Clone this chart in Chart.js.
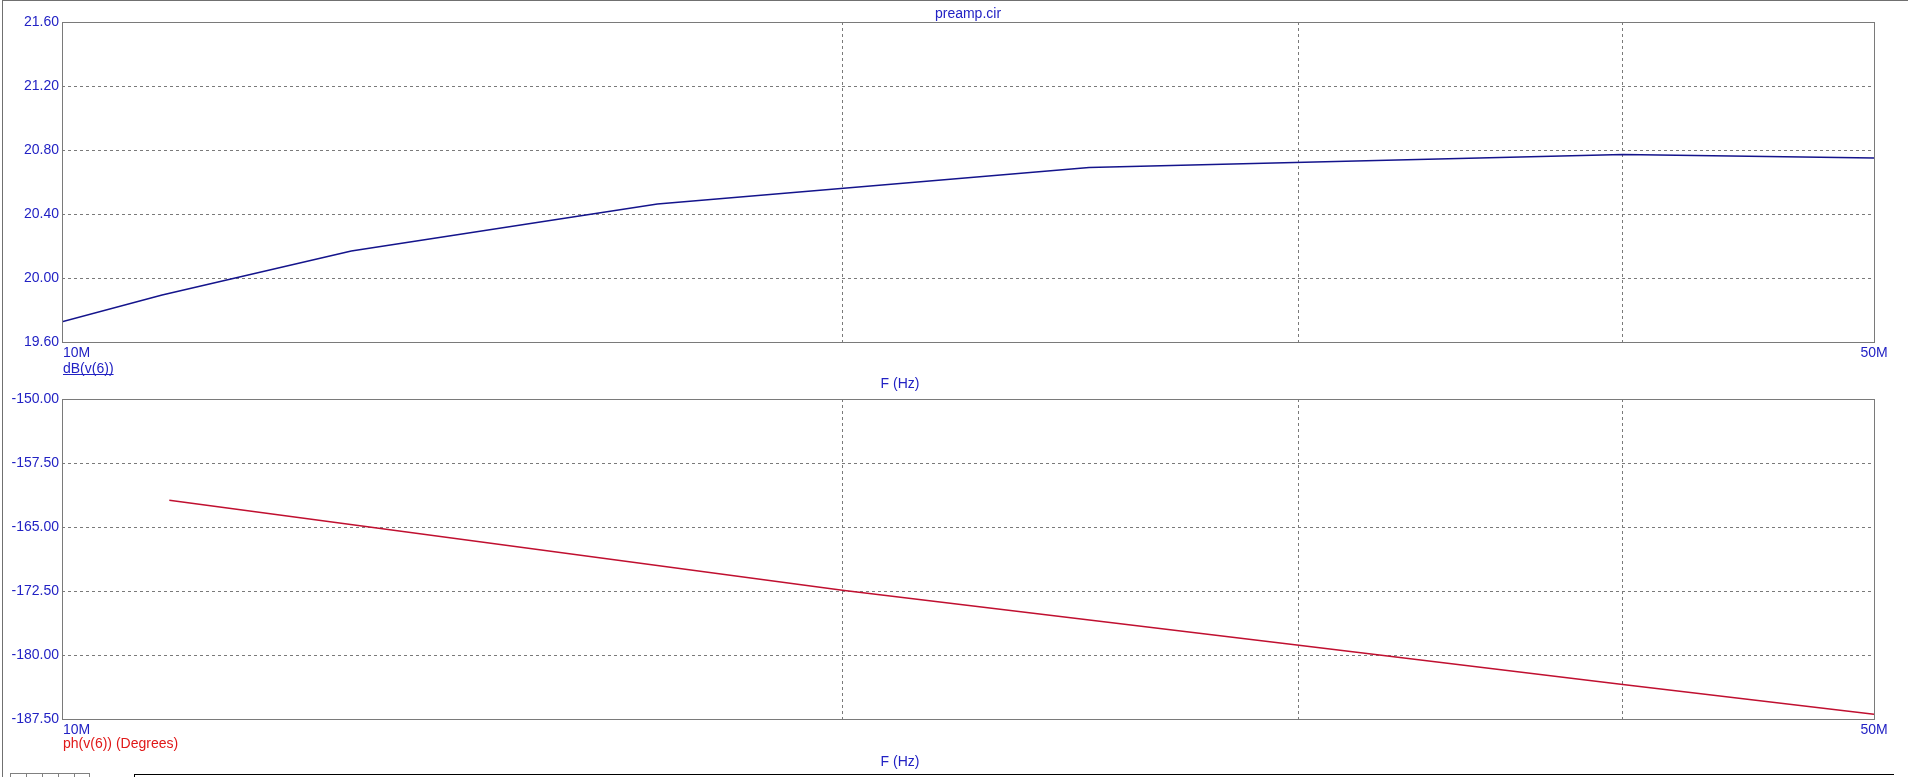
<!DOCTYPE html>
<html>
<head>
<meta charset="utf-8">
<script src="https://cdn.jsdelivr.net/npm/chart.js@4.4.0/dist/chart.umd.min.js"></script>
<style>
  html, body { margin:0; padding:0; background:#ffffff; }
  body { width:1908px; height:777px; position:relative; overflow:hidden; }
  canvas { position:absolute; left:0; top:0; }
  .deco { position:absolute; }
</style>
</head>
<body>
<div class="deco" style="left:2px;top:0;width:1px;height:777px;background:#707070;"></div>
<div class="deco" style="left:2px;top:0;width:1906px;height:1px;background:#707070;"></div>
<div class="deco" style="left:10px;top:773px;width:80px;height:10px;border:1px solid #808080;box-sizing:border-box;"></div>
<div class="deco" style="left:26px;top:773px;width:1px;height:4px;background:#808080;"></div>
<div class="deco" style="left:42px;top:773px;width:1px;height:4px;background:#808080;"></div>
<div class="deco" style="left:58px;top:773px;width:1px;height:4px;background:#808080;"></div>
<div class="deco" style="left:74px;top:773px;width:1px;height:4px;background:#808080;"></div>
<div class="deco" style="left:134px;top:774px;width:1759px;height:10px;border-top:1px solid #000;border-left:1px solid #000;"></div>
<canvas id="c1" width="1908" height="777"></canvas>
<canvas id="c2" width="1908" height="777"></canvas>
<script>
// ---- data (frequencies in MHz) ----
const title = 'preamp.cir';
const xTickValuesMHz = [10, 20, 30, 40, 50];
const xTickLabels = ['10M', '', '', '', '50M'];
const xAxisTitle = 'F (Hz)';

const gainFreqMHz = [10, 10.93, 12.93, 16.97, 24.9, 40, 50];
const gainDb      = [19.727, 19.894, 20.169, 20.462, 20.69, 20.772, 20.75];
const gainLabel = 'dB(v(6))';
const gainTicks = { min: 19.6, max: 21.6, step: 0.4 };

const phaseFreqMHz = [11.0, 20, 30, 40, 50];
const phaseDeg     = [-161.86, -172.4, -178.85, -183.45, -186.95];
const phaseLabel = 'ph(v(6)) (Degrees)';
const phaseTicks = { min: -187.5, max: -150, step: 7.5 };

const FONT = '"Liberation Sans", Arial, sans-serif';
const BLUE_TXT = '#2222c4';
const GRID = '#7a7a7a';

function makeChart(id, cfg) {
  const deco = {
    id: 'deco' + id,
    afterDraw(chart) {
      const ctx = chart.ctx;
      const a = chart.chartArea;
      const xs = chart.scales.x;
      ctx.save();
      // frame
      ctx.strokeStyle = GRID;
      ctx.lineWidth = 1;
      ctx.setLineDash([]);
      ctx.strokeRect(Math.floor(a.left) + 0.5, Math.floor(a.top) + 0.5,
                     Math.round(a.right - a.left), Math.round(a.bottom - a.top));
      ctx.font = '14px ' + FONT;
      ctx.textBaseline = 'alphabetic';
      // x tick labels
      ctx.fillStyle = BLUE_TXT;
      xTickValuesMHz.forEach((v, i) => {
        const lab = xTickLabels[i];
        if (!lab) return;
        const px = xs.getPixelForValue(v * 1e6);
        if (i === 0) { ctx.textAlign = 'left'; ctx.fillText(lab, px + 1, a.bottom + 15); }
        else { ctx.textAlign = 'center'; ctx.fillText(lab, px, a.bottom + 15); }
      });
      // series label
      ctx.textAlign = 'left';
      ctx.fillStyle = cfg.labelColor;
      ctx.fillText(cfg.label, a.left + 1, a.bottom + cfg.labelDy);
      if (cfg.underline) {
        const w = ctx.measureText(cfg.label).width;
        ctx.fillRect(a.left + 1, a.bottom + cfg.labelDy + 1, w, 1);
      }
      // axis title
      ctx.fillStyle = BLUE_TXT;
      ctx.textAlign = 'center';
      ctx.fillText(xAxisTitle, 900, cfg.axisTitleY);
      if (cfg.title) ctx.fillText(cfg.title, (a.left + a.right) / 2, 18);
      ctx.restore();
    }
  };
  return new Chart(document.getElementById(id), {
    type: 'line',
    data: {
      datasets: [{
        data: cfg.freq.map((f, i) => ({ x: f * 1e6, y: cfg.vals[i] })),
        borderColor: cfg.lineColor,
        borderWidth: 1.5,
        pointRadius: 0,
        fill: false,
        tension: 0
      }]
    },
    options: {
      responsive: false,
      animation: false,
      devicePixelRatio: 1,
      layout: { padding: { left: 0, right: 34, top: cfg.top, bottom: 0 } },
      plugins: { legend: { display: false }, tooltip: { enabled: false }, title: { display: false } },
      scales: {
        x: {
          type: 'logarithmic',
          min: 10e6, max: 50e6,
          afterBuildTicks(s) { s.ticks = xTickValuesMHz.map(v => ({ value: v * 1e6 })); },
          afterFit(s) { s.height = 777 - cfg.bottom; },
          ticks: { display: false },
          grid: { color: GRID, lineWidth: 1, drawTicks: false },
          border: { display: false, dash: [3, 3] }
        },
        y: {
          min: cfg.ticks.min, max: cfg.ticks.max,
          afterFit(s) { s.width = 62; },
          ticks: {
            stepSize: cfg.ticks.step,
            padding: 3,
            color: BLUE_TXT,
            font: { family: FONT, size: 14 },
            callback: v => Number(v).toFixed(2)
          },
          grid: { color: GRID, lineWidth: 1, drawTicks: false },
          border: { display: false, dash: [3, 3] }
        }
      }
    },
    plugins: [deco]
  });
}

makeChart('c1', {
  freq: gainFreqMHz, vals: gainDb, ticks: gainTicks,
  top: 22, bottom: 342, lineColor: '#14148c',
  label: gainLabel, labelColor: BLUE_TXT, underline: true, labelDy: 31,
  axisTitleY: 388, title: title
});
makeChart('c2', {
  freq: phaseFreqMHz, vals: phaseDeg, ticks: phaseTicks,
  top: 399, bottom: 719, lineColor: '#c01030',
  label: phaseLabel, labelColor: '#e01818', underline: false, labelDy: 29,
  axisTitleY: 766, title: null
});
</script>
</body>
</html>
